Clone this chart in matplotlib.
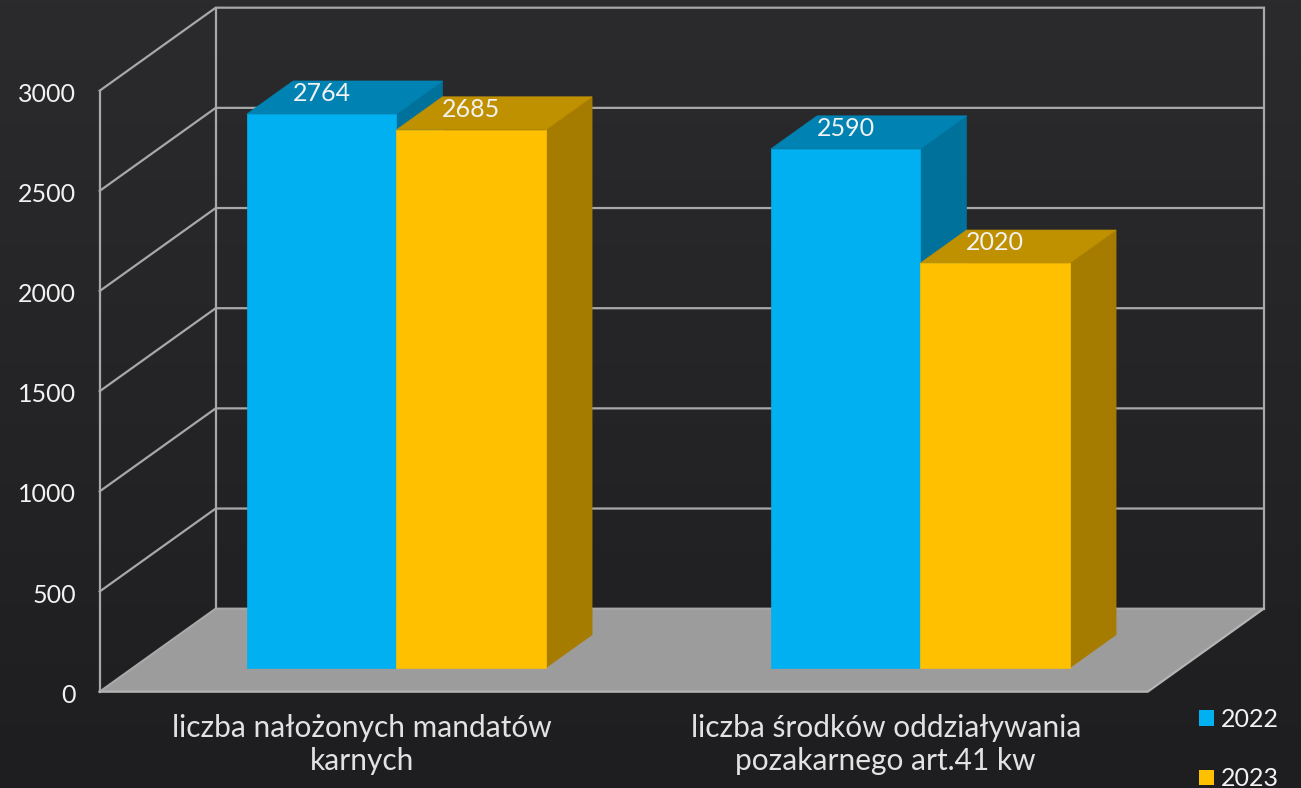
import numpy as np
import matplotlib
matplotlib.use("Agg")
import matplotlib.pyplot as plt
from matplotlib.patches import Polygon, Patch

# Data
categories = ["liczba nałożonych mandatów\nkarnych",
              "liczba środków oddziaływania\npozakarnego art.41 kw"]
series_names = ["2022", "2023"]
values_2022 = [2764, 2590]
values_2023 = [2685, 2020]
y_ticks = [0, 500, 1000, 1500, 2000, 2500, 3000]

# Constants
W, H = 1301, 788
PX_PER_CAT = 524.0
PX_PER_VAL = 601.0 / 3000
DX = 116 / PX_PER_CAT  # depth of the whole box, category units
DY = 83 / PX_PER_VAL  # same in value units
BAR_W = 149.5 / PX_PER_CAT
D0, D1 = 24 / 83, 57 / 83  # bar depth range, 0 = front, 1 = back
LINE = "#a8a8a8"
BLUE = ("#00b0f0", "#0083b3", "#00719b")
YELLOW = ("#ffc000", "#bf9000", "#a67c00")

plt.rcParams["font.family"] = ["Lato", "DejaVu Sans"]


def proj(x, v, d):
    return x + DX * d, v + DY * d


def draw_box(ax, x, value, colors, z):
    x0, x1 = x, x + BAR_W
    front = [proj(x0, 0, D0), proj(x1, 0, D0), proj(x1, value, D0), proj(x0, value, D0)]
    side = [proj(x1, 0, D0), proj(x1, 0, D1), proj(x1, value, D1), proj(x1, value, D0)]
    top = [proj(x0, value, D0), proj(x1, value, D0), proj(x1, value, D1), proj(x0, value, D1)]
    for pts, c in [(side, colors[2]), (top, colors[1]), (front, colors[0])]:
        ax.add_patch(Polygon(pts, closed=True, fc=c, ec=c, lw=0.5, zorder=z))


fig = plt.figure(figsize=(W / 100, H / 100), dpi=100)
ax = fig.add_axes([0, 0, 1, 1])
xlim = (-99.7 / PX_PER_CAT, (W - 99.7) / PX_PER_CAT)
ylim = (-(H - 691.7) / PX_PER_VAL, 691.7 / PX_PER_VAL)
ax.axis("off")

# background
grad = np.linspace(0, 1, 256).reshape(-1, 1)
bg = matplotlib.colors.LinearSegmentedColormap.from_list("bg", ["#2b2b2d", "#1e1e20"])
ax.imshow(grad, cmap=bg, aspect="auto", extent=(xlim[0], xlim[1], ylim[0], ylim[1]),
          origin="upper", zorder=0)
ax.set_xlim(*xlim)
ax.set_ylim(*ylim)

# floor
n = len(categories)
ax.add_patch(Polygon([proj(0, 0, 0), proj(n, 0, 0), proj(n, 0, 1), proj(0, 0, 1)],
                     closed=True, fc="#9c9c9c", ec="none", zorder=1))

# walls and grid
for t in y_ticks:
    x0, y0 = proj(0, t, 0)
    x1, y1 = proj(0, t, 1)
    x2, y2 = proj(n, t, 1)
    ax.plot([x0, x1, x2], [y0, y1, y2], color=LINE, lw=1.6, zorder=2)
    ax.text(x0 - 24 / PX_PER_CAT, t - 3.5 / PX_PER_VAL, f"{t}", color="#f2f2f2", fontsize=18,
            ha="right", va="center", zorder=5)
for d, x in [(0, 0), (1, 0), (1, n)]:
    xa, ya = proj(x, 0, d)
    xb, yb = proj(x, y_ticks[-1], d)
    ax.plot([xa, xb], [ya, yb], color=LINE, lw=1.6, zorder=2)
ax.plot([proj(0, 0, 0)[0], proj(n, 0, 0)[0], proj(n, 0, 1)[0]],
        [proj(0, 0, 0)[1], proj(n, 0, 0)[1], proj(n, 0, 1)[1]],
        color="#b4b4b4", lw=1.6, zorder=2)

# bars
for i in range(n):
    for j, (vals, cols) in enumerate([(values_2022, BLUE), (values_2023, YELLOW)]):
        x = i + 0.5 + 1.2 / PX_PER_CAT + (j - 1) * BAR_W
        draw_box(ax, x, vals[i], cols, 3 + i + j * 0.1)
        lx, ly = proj(x + BAR_W / 2, vals[i] + 102, D0)
        ax.text(lx, ly, f"{vals[i]}", color="#f2f2f2", fontsize=18,
                ha="center", va="center", zorder=6)

# category labels
for i, label in enumerate(categories):
    ax.text(i + 0.5, -(744 - 691) / PX_PER_VAL, label, color="#e2e2e2", fontsize=21.5,
            ha="center", va="center", linespacing=1.2, zorder=5)

# legend
handles = [Patch(fc=BLUE[0], ec="none"), Patch(fc=YELLOW[0], ec="none")]
fig.legend(handles, series_names, loc="upper left", bbox_to_anchor=(1199 / W, 1 - 708 / H),
           frameon=False, fontsize=18, labelcolor="#f2f2f2", handlelength=0.6,
           handleheight=0.6, handletextpad=0.28, labelspacing=1.45, borderpad=0, borderaxespad=0)

fig.savefig("out.png", dpi=100)
